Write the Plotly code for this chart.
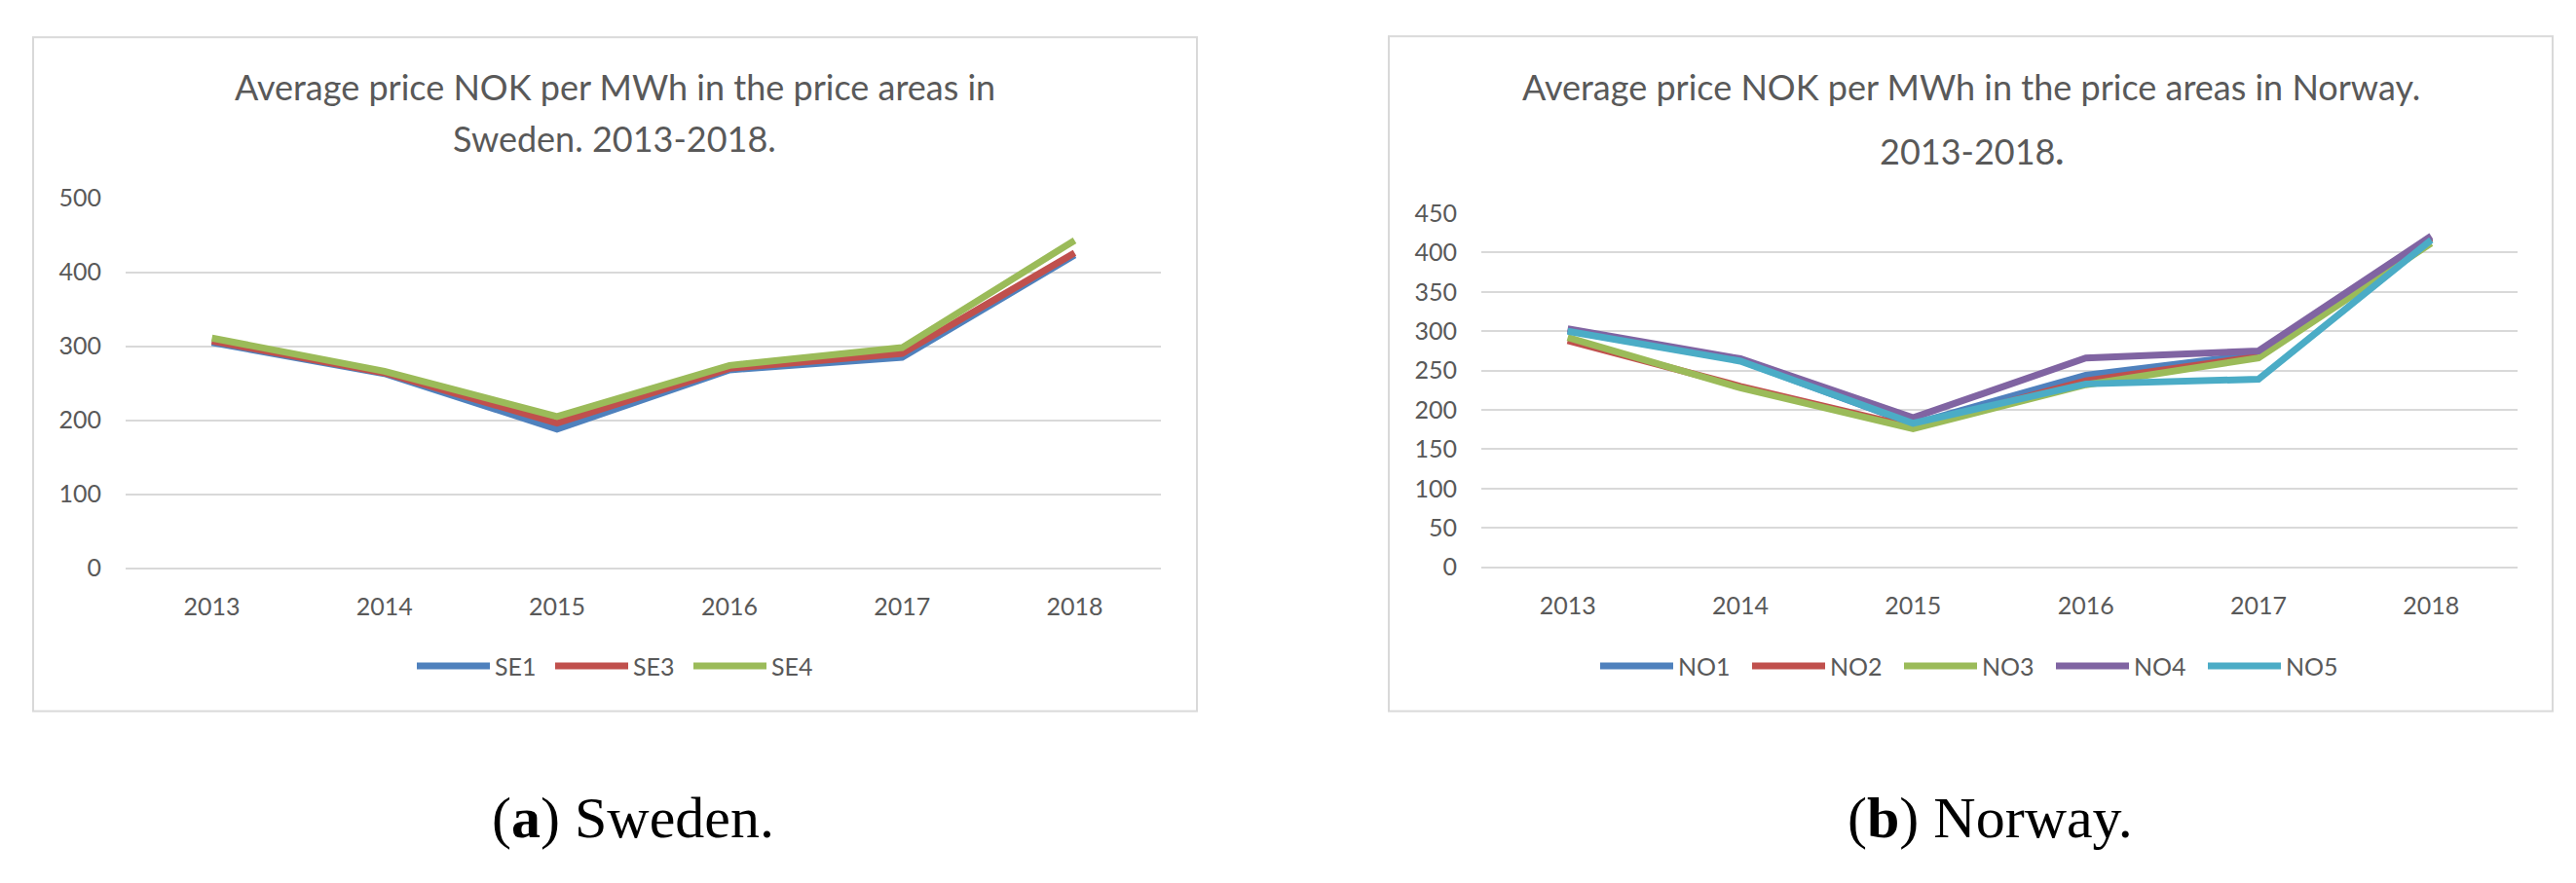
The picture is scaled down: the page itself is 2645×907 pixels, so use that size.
import plotly.graph_objects as go

W, H = 2645, 907

years = ["2013", "2014", "2015", "2016", "2017", "2018"]

# Sweden (NOK per MWh)
se1 = [305, 263, 188, 268, 285, 423]
se3 = [307, 264, 196, 270, 290, 426]
se4 = [311, 266, 205, 274, 298, 443]

# Norway (NOK per MWh)
no1 = [301, 263, 182, 244, 271, 419]
no2 = [288, 230, 178, 237, 268, 418]
no3 = [292, 228, 176, 232, 266, 412]
no4 = [303, 265, 190, 266, 275, 421]
no5 = [300, 262, 183, 233, 239, 416]

se_ticks = [0, 100, 200, 300, 400, 500]
no_ticks = [0, 50, 100, 150, 200, 250, 300, 350, 400, 450]

C_BLUE, C_RED, C_GREEN, C_PURPLE, C_CYAN = "#4F81BD", "#C0504D", "#9BBB59", "#8064A2", "#4BACC6"
TXT = "#595959"
GRID = "#d9d9d9"
FONT = "Lato"
LW = 7


def px(x):
    return x / W


def py(y):
    return 1 - y / H


fig = go.Figure()

for name, vals, col in [("SE1", se1, C_BLUE), ("SE3", se3, C_RED), ("SE4", se4, C_GREEN)]:
    fig.add_trace(go.Scatter(x=years, y=vals, name=name, mode="lines",
                             line=dict(color=col, width=LW), xaxis="x", yaxis="y",
                             legend="legend"))

for name, vals, col in [("NO1", no1, C_BLUE), ("NO2", no2, C_RED), ("NO3", no3, C_GREEN),
                        ("NO4", no4, C_PURPLE), ("NO5", no5, C_CYAN)]:
    fig.add_trace(go.Scatter(x=years, y=vals, name=name, mode="lines",
                             line=dict(color=col, width=LW), xaxis="x2", yaxis="y2",
                             legend="legend2"))

xcommon = dict(type="category", categoryorder="array", categoryarray=years,
               range=[-0.5, 5.5], showgrid=False, zeroline=False, showline=False,
               ticks="", tickfont=dict(family=FONT, size=25, color=TXT),
               ticklabelstandoff=22, fixedrange=True)
ycommon = dict(showgrid=True, gridcolor=GRID, gridwidth=2, zeroline=True,
               zerolinecolor=GRID, zerolinewidth=2, showline=False, ticks="",
               tickfont=dict(family=FONT, size=25, color=TXT),
               ticklabelstandoff=24, fixedrange=True)

legcommon = dict(orientation="h", xanchor="center", yanchor="middle",
                 font=dict(family=FONT, size=25, color=TXT), itemwidth=75,
                 bgcolor="rgba(0,0,0,0)", tracegroupgap=0)

fig.update_layout(
    width=W, height=H,
    margin=dict(l=0, r=0, t=0, b=0),
    paper_bgcolor="white", plot_bgcolor="white",
    xaxis=dict(domain=[px(129), px(1192)], anchor="y", **xcommon),
    yaxis=dict(domain=[py(587), py(194)], anchor="x", range=[0, 500],
               tickvals=se_ticks, **ycommon),
    xaxis2=dict(domain=[px(1521), px(2585)], anchor="y2", **xcommon),
    yaxis2=dict(domain=[py(586), py(210)], anchor="x2", range=[0, 450],
                tickvals=no_ticks, **ycommon),
    legend=dict(x=px(636), y=py(691), entrywidth=52, **legcommon),
    legend2=dict(x=px(2028), y=py(691), entrywidth=66, **legcommon),
    showlegend=True,
)

# chart frames
fig.add_shape(type="rect", xref="paper", yref="paper", x0=px(34), x1=px(1229),
              y0=py(739), y1=py(23), line=dict(color=GRID, width=2), layer="below")
fig.add_shape(type="rect", xref="paper", yref="paper", x0=px(1426), x1=px(2621),
              y0=py(739), y1=py(22), line=dict(color=GRID, width=2), layer="below")

tfont = dict(family=FONT, size=36, color=TXT)
cfont = dict(family="Liberation Serif", size=60, color="black")
annots = [
    ("Average price NOK per MWh in the price areas in", 631, 75, tfont),
    ("Sweden. 2013-2018.", 631, 130, tfont),
    ("Average price NOK per MWh in the price areas in Norway.", 2024, 76, tfont),
    ("2013-2018<b>.</b>", 2024, 144, tfont),
    ("(<b>a</b>) Sweden.", 650, 852, cfont),
    ("(<b>b</b>) Norway.", 2043, 852, cfont),
]
for text, x, y, f in annots:
    fig.add_annotation(text=text, x=px(x), y=py(y), xref="paper", yref="paper",
                       xanchor="center", yanchor="middle", showarrow=False, font=f)

fig.write_html("out.html", config={"displayModeBar": False},
               post_script="document.body.style.margin='0';")
